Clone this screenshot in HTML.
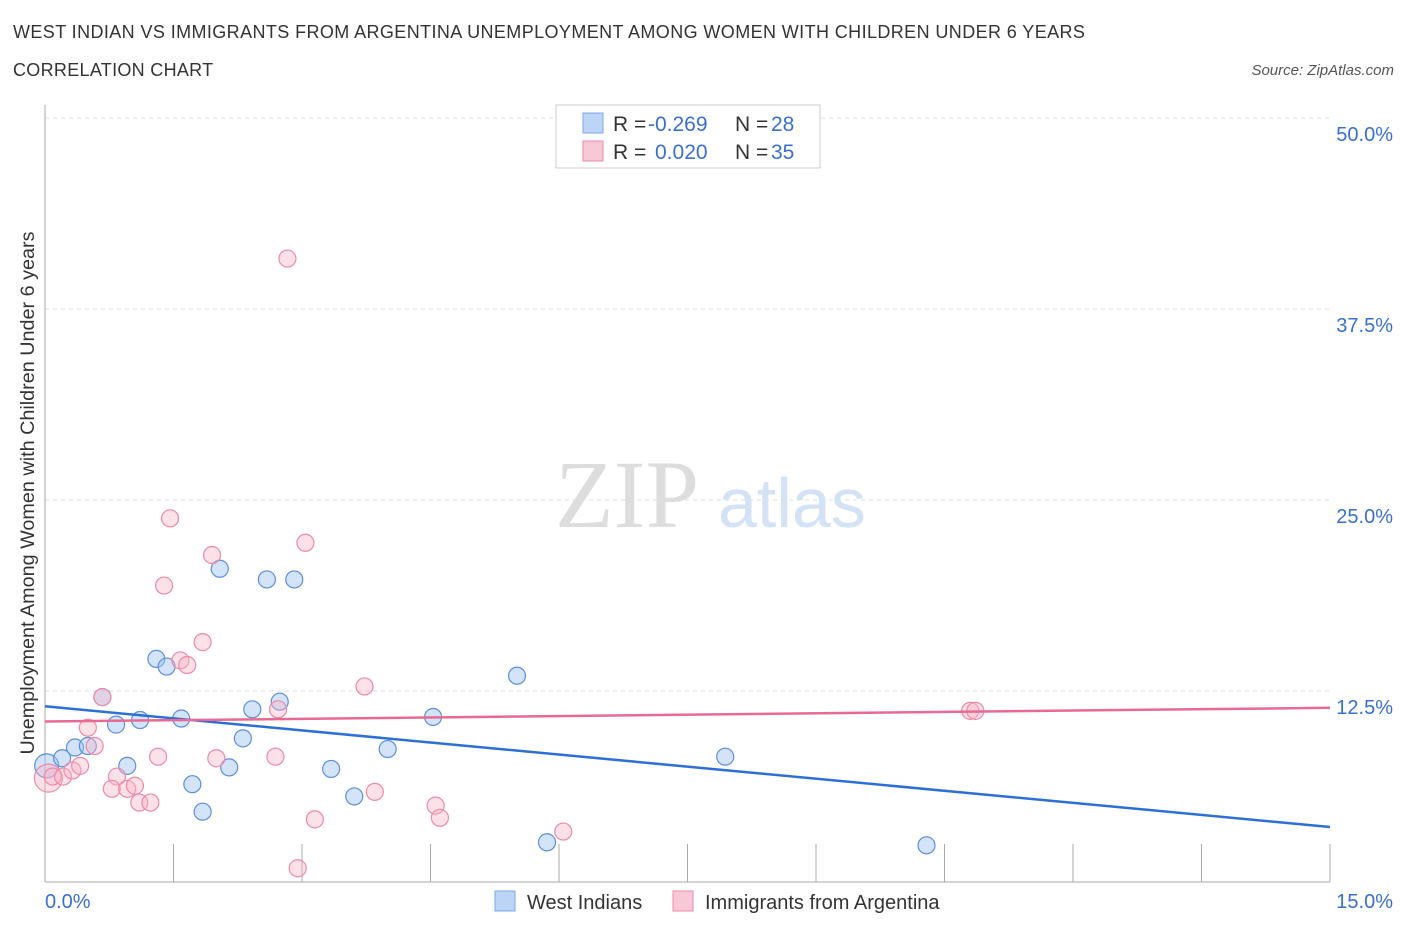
<!DOCTYPE html>
<html><head><meta charset="utf-8">
<style>
body{margin:0;background:#fff;font-family:"Liberation Sans",sans-serif;}
#wrap{position:relative;width:1406px;height:930px;overflow:hidden;}
.t{position:absolute;white-space:nowrap;}
</style></head>
<body>
<div id="wrap">
<div class="t" style="left:13px;top:22px;font-size:18px;letter-spacing:0.4px;color:#333;">WEST INDIAN VS IMMIGRANTS FROM ARGENTINA UNEMPLOYMENT AMONG WOMEN WITH CHILDREN UNDER 6 YEARS</div>
<div class="t" style="left:13px;top:60px;font-size:18px;letter-spacing:0.3px;color:#333;">CORRELATION CHART</div>
<div class="t" style="right:12px;top:62px;font-size:15px;color:#555;font-style:italic;">Source: ZipAtlas.com</div>
<svg id="svg" width="1406" height="930" style="position:absolute;left:0;top:0"></svg>
</div>
<script>
const xTicks=[0,1.5,3,4.5,6,7.5,9,10.5,12,13.5,15];
const yTicks=[12.5,25,37.5,50];
const yTickLabels=["12.5%","25.0%","37.5%","50.0%"];
const blueX=[0.02,0.2,0.35,0.5,0.67,0.83,0.96,1.11,1.3,1.42,1.59,1.72,1.84,2.04,2.15,2.31,2.42,2.59,2.74,2.91,3.34,3.61,4.0,4.53,5.51,5.86,7.94,10.29];
const blueY=[7.6,8.1,8.8,8.9,12.1,10.3,7.6,10.6,14.6,14.1,10.7,6.4,4.6,20.5,7.5,9.4,11.3,19.8,11.8,19.8,7.4,5.6,8.7,10.8,13.5,2.6,8.2,2.4];
const pinkX=[0.04,0.09,0.21,0.32,0.41,0.5,0.58,0.67,0.84,0.78,0.96,1.05,1.1,1.23,1.32,1.58,1.66,1.84,2.0,2.72,2.69,3.73,3.15,3.85,2.95,4.56,4.61,1.46,1.39,1.95,3.04,2.83,10.8,10.86,6.05];
const pinkY=[6.8,6.9,6.9,7.3,7.6,10.1,8.9,12.1,6.9,6.1,6.1,6.3,5.2,5.2,8.2,14.5,14.2,15.7,8.1,11.3,8.2,12.8,4.1,5.9,0.9,5.0,4.2,23.8,19.4,21.4,22.2,40.8,11.2,11.2,3.3];
const blueLine=[[0,11.5],[15,3.6]];
const pinkLine=[[0,10.5],[15,11.4]];
const X0=45,X1=1330,Y0=882,YT=118;
const xs=v=>X0+(v/15)*(X1-X0);
const ys=v=>Y0-(v/50)*(Y0-YT);
const svg=document.getElementById('svg');
const NS='http://www.w3.org/2000/svg';
function mk(tag,attrs,name){const e=document.createElementNS(NS,tag);for(const k in attrs)e.setAttribute(k,attrs[k]);


svg.appendChild(e);return e;}
yTicks.forEach((t,i)=>{mk('line',{x1:X0,x2:X1,y1:ys(t),y2:ys(t),stroke:'#ddd','stroke-dasharray':'4,4'},'gridline');
const tx=mk('text',{x:1393,y:ys(t)+23,'text-anchor':'end','font-size':20,fill:'#3a6fd0'},'y-tick-label');tx.textContent=yTickLabels[i];});
mk('line',{x1:X0,x2:X0,y1:105,y2:Y0,stroke:'#aaa'},'y-axis');
mk('line',{x1:X0,x2:X1,y1:Y0,y2:Y0,stroke:'#aaa'},'x-axis');
xTicks.forEach(t=>{if(t>0)mk('line',{x1:xs(t),x2:xs(t),y1:Y0,y2:Y0-38,stroke:'#aaa'},'x-tick');});
let a=mk('text',{x:45,y:908,'font-size':20,fill:'#3a6fd0'},'x-tick-label');a.textContent='0.0%';
a=mk('text',{x:1393,y:908,'text-anchor':'end','font-size':20,fill:'#3a6fd0'},'x-tick-label');a.textContent='15.0%';
a=mk('text',{x:555,y:527,'font-size':96,fill:'#ddd','font-family':'Liberation Serif'},'watermark-zip');a.textContent='ZIP';
a=mk('text',{x:718,y:527,'font-size':70,fill:'#d4e2f5'},'watermark-atlas');a.textContent='atlas';
a=mk('text',{x:0,y:0,'font-size':19.8,fill:'#333',transform:'translate(34,493) rotate(-90)','text-anchor':'middle'},'y-axis-title');a.textContent='Unemployment Among Women with Children Under 6 years';
blueX.forEach((v,i)=>mk('circle',{cx:xs(v),cy:ys(blueY[i]),r:i==0?12:8.5,fill:'rgba(160,195,240,0.45)',stroke:'#5b8fdc','stroke-width':1.2},'blue-point'));
pinkX.forEach((v,i)=>mk('circle',{cx:xs(v),cy:ys(pinkY[i]),r:i==0?14:8.5,fill:'rgba(248,180,200,0.4)',stroke:'#ec8aa8','stroke-width':1.2},'pink-point'));
mk('line',{x1:xs(blueLine[0][0]),y1:ys(blueLine[0][1]),x2:xs(blueLine[1][0]),y2:ys(blueLine[1][1]),stroke:'#2e6fd6','stroke-width':2.5},'blue-trendline');
mk('line',{x1:xs(pinkLine[0][0]),y1:ys(pinkLine[0][1]),x2:xs(pinkLine[1][0]),y2:ys(pinkLine[1][1]),stroke:'#e86a93','stroke-width':2.5},'pink-trendline');
mk('rect',{x:556,y:105,width:264,height:63,fill:'#fff',stroke:'#ccc'},'legend-box');
mk('rect',{x:583,y:113,width:20,height:20,fill:'#bcd5f7',stroke:'#7da8e8'},'legend-swatch-blue');
mk('rect',{x:583,y:141,width:20,height:20,fill:'#f9c8d6',stroke:'#ec8aa8'},'legend-swatch-pink');
function lt(x,y,s,c,n,f){const e=mk('text',{x:x,y:y,'font-size':f||21,fill:c},n);e.textContent=s;}
lt(613,131,'R =','#333','legend-r-label');lt(648,131,'-0.269','#3a6fd0','legend-r-blue');lt(735,131,'N =','#333','legend-n-label');lt(771,131,'28','#3a6fd0','legend-n-blue');
lt(613,159,'R =','#333','legend-r-label');lt(655,159,'0.020','#3a6fd0','legend-r-pink');lt(735,159,'N =','#333','legend-n-label');lt(771,159,'35','#3a6fd0','legend-n-pink');
mk('rect',{x:495,y:891,width:20,height:20,fill:'#bcd5f7',stroke:'#7da8e8'},'legend-entry-west-indians');
lt(527,909,'West Indians','#333','legend-label-west-indians',20);
mk('rect',{x:673,y:891,width:20,height:20,fill:'#f9c8d6',stroke:'#ec8aa8'},'legend-entry-argentina');
lt(705,909,'Immigrants from Argentina','#333','legend-label-argentina',20);
</script>
</body></html>
